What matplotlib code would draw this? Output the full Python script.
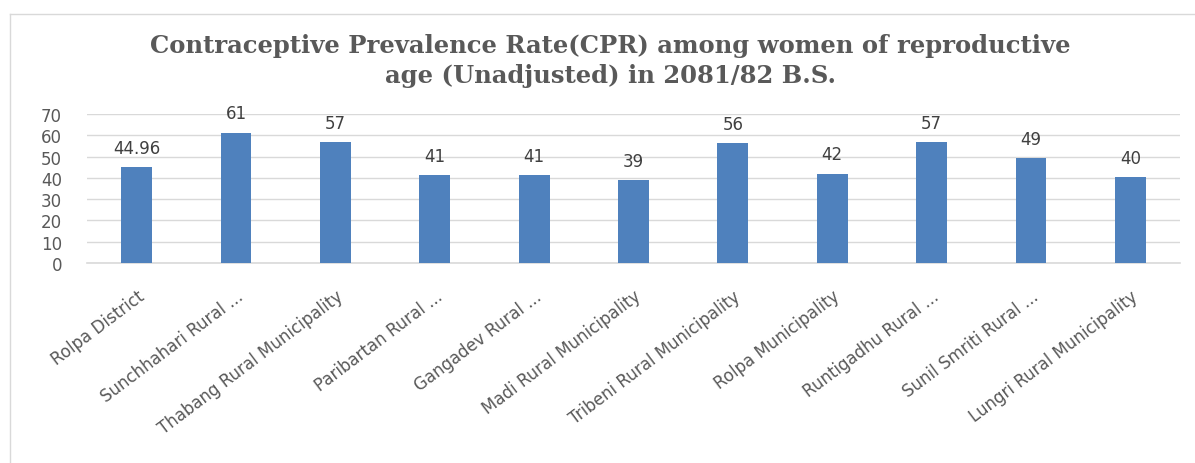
import matplotlib.pyplot as plt
from matplotlib.lines import Line2D

# CPR by area, 2081/82 B.S.
areas = ['Rolpa District', 'Sunchhahari Rural ...', 'Thabang Rural Municipality',
         'Paribartan Rural ...', 'Gangadev Rural ...', 'Madi Rural Municipality',
         'Tribeni Rural Municipality', 'Rolpa Municipality', 'Runtigadhu Rural ...',
         'Sunil Smriti Rural ...', 'Lungri Rural Municipality']
cpr = [44.96, 61.3, 57, 41.4, 41.4, 39, 56.4, 42, 57, 49.2, 40.3]
cpr_labels = ['44.96', '61', '57', '41', '41', '39', '56', '42', '57', '49', '40']
yticks = [0, 10, 20, 30, 40, 50, 60, 70]

fig = plt.figure(figsize=(11.95, 4.64), dpi=100)
ax = fig.add_axes([87 / 1195, 1 - 264 / 464, 1093 / 1195, 149 / 464])

x = range(len(areas))
bars = ax.bar(x, cpr, width=0.31, color='#4f81bd', zorder=3)
for b, lab in zip(bars, cpr_labels):
    ax.text(b.get_x() + b.get_width() / 2, b.get_height() + 9, lab,
            ha='center', va='center', fontsize=12, color='#404040')

ax.set_ylim(0, 70)
ax.set_xlim(-0.5, len(areas) - 0.5)
ax.set_yticks(yticks)
ax.set_yticklabels([str(t) for t in yticks], fontsize=12, color='#595959')
ax.set_xticks(list(x))
ax.set_xticklabels(areas, rotation=37, ha='right', rotation_mode='anchor',
                   fontsize=12, color='#595959')
ax.tick_params(length=0, pad=18, axis='y')
ax.tick_params(length=0, pad=17, axis='x')
ax.grid(axis='y', color='#d9d9d9', lw=1, zorder=0)
for s in ['top', 'left', 'right']:
    ax.spines[s].set_visible(False)
ax.spines['bottom'].set_color('#d9d9d9')
ax.spines['bottom'].set_linewidth(1.2)

fig.text(0.511, 1 - 53 / 464, 'Contraceptive Prevalence Rate(CPR) among women of reproductive',
         ha='center', va='baseline', fontsize=17.5, fontweight='bold', color='#595959',
         family='DejaVu Serif')
fig.text(0.511, 1 - 83 / 464, 'age (Unadjusted) in 2081/82 B.S.',
         ha='center', va='baseline', fontsize=17.5, fontweight='bold', color='#595959',
         family='DejaVu Serif')

# chart frame
fig.add_artist(Line2D([0.0085, 1.0], [0.967, 0.967], color='#d9d9d9', lw=1))
fig.add_artist(Line2D([0.0085, 0.0085], [0.0, 0.967], color='#d9d9d9', lw=1))

plt.savefig('out.png', dpi=100)
